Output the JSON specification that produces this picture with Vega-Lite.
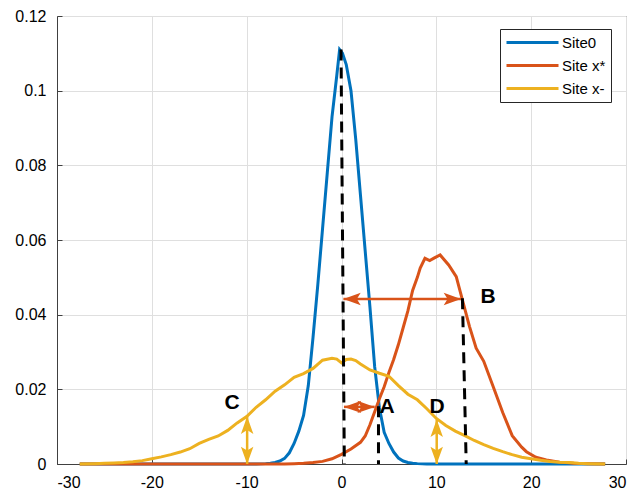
{
  "$schema": "https://vega.github.io/schema/vega-lite/v6.json",
  "width": 569,
  "height": 448,
  "autosize": "none",
  "padding": {"left": 57, "top": 16, "right": 17, "bottom": 29},
  "background": "white",
  "config": {
    "view": {"stroke": "#404040", "strokeWidth": 1},
    "font": "Liberation Sans",
    "axis": {
      "labelColor": "#000000",
      "domainColor": "#404040",
      "gridColor": "#DFDFDF",
      "gridWidth": 1,
      "tickColor": "#404040",
      "tickSize": -5,
      "title": null
    }
  },
  "datasets": {
    "curves": [
      {"s": "Site0", "x": -27.6, "y": 0}, {"s": "Site0", "x": -9, "y": 0}, {"s": "Site0", "x": -8, "y": 0.0001}, {"s": "Site0", "x": -7.5, "y": 0.0002}, {"s": "Site0", "x": -7, "y": 0.0004}, {"s": "Site0", "x": -6.5, "y": 0.0008}, {"s": "Site0", "x": -6, "y": 0.0015}, {"s": "Site0", "x": -5.5, "y": 0.003}, {"s": "Site0", "x": -5, "y": 0.0055}, {"s": "Site0", "x": -4.5, "y": 0.0088}, {"s": "Site0", "x": -4, "y": 0.013}, {"s": "Site0", "x": -3.5, "y": 0.021}, {"s": "Site0", "x": -3, "y": 0.034}, {"s": "Site0", "x": -2.5, "y": 0.048}, {"s": "Site0", "x": -2, "y": 0.063}, {"s": "Site0", "x": -1.5, "y": 0.078}, {"s": "Site0", "x": -1, "y": 0.093}, {"s": "Site0", "x": -0.5, "y": 0.104}, {"s": "Site0", "x": -0.2, "y": 0.111}, {"s": "Site0", "x": 0.1, "y": 0.110}, {"s": "Site0", "x": 0.5, "y": 0.107}, {"s": "Site0", "x": 1, "y": 0.100}, {"s": "Site0", "x": 1.5, "y": 0.087}, {"s": "Site0", "x": 2, "y": 0.072}, {"s": "Site0", "x": 2.5, "y": 0.057}, {"s": "Site0", "x": 3, "y": 0.042}, {"s": "Site0", "x": 3.5, "y": 0.026}, {"s": "Site0", "x": 4, "y": 0.015}, {"s": "Site0", "x": 4.5, "y": 0.0085}, {"s": "Site0", "x": 5, "y": 0.0055}, {"s": "Site0", "x": 5.5, "y": 0.0032}, {"s": "Site0", "x": 6, "y": 0.0016}, {"s": "Site0", "x": 6.5, "y": 0.0008}, {"s": "Site0", "x": 7, "y": 0.0004}, {"s": "Site0", "x": 7.5, "y": 0.0002}, {"s": "Site0", "x": 8, "y": 0.0001}, {"s": "Site0", "x": 9, "y": 0}, {"s": "Site0", "x": 27.8, "y": 0},
      {"s": "Site x*", "x": -27.6, "y": 0}, {"s": "Site x*", "x": -6, "y": 0}, {"s": "Site x*", "x": -5, "y": 0.0001}, {"s": "Site x*", "x": -4, "y": 0.0002}, {"s": "Site x*", "x": -3, "y": 0.0004}, {"s": "Site x*", "x": -2, "y": 0.0007}, {"s": "Site x*", "x": -1, "y": 0.0014}, {"s": "Site x*", "x": 0, "y": 0.0026}, {"s": "Site x*", "x": 1, "y": 0.004}, {"s": "Site x*", "x": 2, "y": 0.0058}, {"s": "Site x*", "x": 2.5, "y": 0.0075}, {"s": "Site x*", "x": 3, "y": 0.0105}, {"s": "Site x*", "x": 3.5, "y": 0.014}, {"s": "Site x*", "x": 4, "y": 0.0175}, {"s": "Site x*", "x": 4.5, "y": 0.0207}, {"s": "Site x*", "x": 5, "y": 0.0245}, {"s": "Site x*", "x": 5.5, "y": 0.028}, {"s": "Site x*", "x": 6, "y": 0.032}, {"s": "Site x*", "x": 6.5, "y": 0.0365}, {"s": "Site x*", "x": 7, "y": 0.041}, {"s": "Site x*", "x": 7.5, "y": 0.0465}, {"s": "Site x*", "x": 8, "y": 0.050}, {"s": "Site x*", "x": 8.3, "y": 0.0525}, {"s": "Site x*", "x": 8.8, "y": 0.0551}, {"s": "Site x*", "x": 9.3, "y": 0.0545}, {"s": "Site x*", "x": 9.8, "y": 0.0552}, {"s": "Site x*", "x": 10.4, "y": 0.056}, {"s": "Site x*", "x": 11.3, "y": 0.0533}, {"s": "Site x*", "x": 12.1, "y": 0.0502}, {"s": "Site x*", "x": 12.7, "y": 0.0444}, {"s": "Site x*", "x": 13.5, "y": 0.0368}, {"s": "Site x*", "x": 14.2, "y": 0.031}, {"s": "Site x*", "x": 15, "y": 0.0275}, {"s": "Site x*", "x": 16, "y": 0.0207}, {"s": "Site x*", "x": 17, "y": 0.0138}, {"s": "Site x*", "x": 18, "y": 0.0076}, {"s": "Site x*", "x": 19, "y": 0.0045}, {"s": "Site x*", "x": 19.5, "y": 0.0033}, {"s": "Site x*", "x": 20.5, "y": 0.0018}, {"s": "Site x*", "x": 21.6, "y": 0.0011}, {"s": "Site x*", "x": 23, "y": 0.0005}, {"s": "Site x*", "x": 24.5, "y": 0.0002}, {"s": "Site x*", "x": 26, "y": 0.0001}, {"s": "Site x*", "x": 27.8, "y": 0},
      {"s": "Site x-", "x": -27.6, "y": 0}, {"s": "Site x-", "x": -26, "y": 0.0001}, {"s": "Site x-", "x": -25, "y": 0.0002}, {"s": "Site x-", "x": -24, "y": 0.0003}, {"s": "Site x-", "x": -23, "y": 0.0004}, {"s": "Site x-", "x": -22, "y": 0.0006}, {"s": "Site x-", "x": -21, "y": 0.0009}, {"s": "Site x-", "x": -20, "y": 0.0014}, {"s": "Site x-", "x": -19, "y": 0.0019}, {"s": "Site x-", "x": -18, "y": 0.0025}, {"s": "Site x-", "x": -17, "y": 0.0032}, {"s": "Site x-", "x": -16, "y": 0.0041}, {"s": "Site x-", "x": -15, "y": 0.0055}, {"s": "Site x-", "x": -14, "y": 0.0066}, {"s": "Site x-", "x": -13, "y": 0.0075}, {"s": "Site x-", "x": -12, "y": 0.009}, {"s": "Site x-", "x": -11, "y": 0.011}, {"s": "Site x-", "x": -10, "y": 0.0127}, {"s": "Site x-", "x": -9, "y": 0.0152}, {"s": "Site x-", "x": -8, "y": 0.0172}, {"s": "Site x-", "x": -7, "y": 0.0195}, {"s": "Site x-", "x": -6, "y": 0.0212}, {"s": "Site x-", "x": -5, "y": 0.0232}, {"s": "Site x-", "x": -4, "y": 0.0242}, {"s": "Site x-", "x": -3, "y": 0.0256}, {"s": "Site x-", "x": -2, "y": 0.0278}, {"s": "Site x-", "x": -1, "y": 0.0283}, {"s": "Site x-", "x": -0.5, "y": 0.0281}, {"s": "Site x-", "x": 0, "y": 0.0271}, {"s": "Site x-", "x": 0.5, "y": 0.028}, {"s": "Site x-", "x": 1, "y": 0.0281}, {"s": "Site x-", "x": 1.5, "y": 0.0277}, {"s": "Site x-", "x": 2, "y": 0.0268}, {"s": "Site x-", "x": 3, "y": 0.0252}, {"s": "Site x-", "x": 4, "y": 0.0243}, {"s": "Site x-", "x": 5, "y": 0.0235}, {"s": "Site x-", "x": 6, "y": 0.021}, {"s": "Site x-", "x": 7, "y": 0.0187}, {"s": "Site x-", "x": 8, "y": 0.0172}, {"s": "Site x-", "x": 9, "y": 0.0148}, {"s": "Site x-", "x": 10, "y": 0.0122}, {"s": "Site x-", "x": 11, "y": 0.0103}, {"s": "Site x-", "x": 12, "y": 0.0088}, {"s": "Site x-", "x": 13, "y": 0.0076}, {"s": "Site x-", "x": 14, "y": 0.0063}, {"s": "Site x-", "x": 15, "y": 0.0052}, {"s": "Site x-", "x": 16, "y": 0.0042}, {"s": "Site x-", "x": 17, "y": 0.0033}, {"s": "Site x-", "x": 18, "y": 0.0025}, {"s": "Site x-", "x": 19, "y": 0.0018}, {"s": "Site x-", "x": 20, "y": 0.0014}, {"s": "Site x-", "x": 21, "y": 0.001}, {"s": "Site x-", "x": 22, "y": 0.0007}, {"s": "Site x-", "x": 23, "y": 0.0005}, {"s": "Site x-", "x": 24, "y": 0.0004}, {"s": "Site x-", "x": 25, "y": 0.0002}, {"s": "Site x-", "x": 26, "y": 0.0001}, {"s": "Site x-", "x": 27.8, "y": 0}
    ],
    "dashes": [
      {"id": 1, "x": -0.05, "y": 0.111}, {"id": 1, "x": 0.3, "y": 0},
      {"id": 2, "x": 3.9, "y": 0.0155}, {"id": 2, "x": 3.9, "y": 0},
      {"id": 3, "x": 12.75, "y": 0.0444}, {"id": 3, "x": 13.15, "y": 0}
    ],
    "arrows": [
      {"arrow": "A", "s": "Site x*", "x": 0.26, "y": 0.0153, "dir": "left"},
      {"arrow": "A", "s": "Site x*", "x": 3.5, "y": 0.0153, "dir": "right"},
      {"arrow": "B", "s": "Site x*", "x": 0.2, "y": 0.0442, "dir": "left"},
      {"arrow": "B", "s": "Site x*", "x": 12.6, "y": 0.0442, "dir": "right"},
      {"arrow": "C", "s": "Site x-", "x": -9.95, "y": 0.0127, "dir": "up"},
      {"arrow": "C", "s": "Site x-", "x": -9.95, "y": 0, "dir": "down"},
      {"arrow": "D", "s": "Site x-", "x": 10.04, "y": 0.0119, "dir": "up"},
      {"arrow": "D", "s": "Site x-", "x": 10.04, "y": 0, "dir": "down"}
    ],
    "labels": [
      {"label": "A", "x": 4.8, "y": 0.0153},
      {"label": "B", "x": 15.45, "y": 0.0447},
      {"label": "C", "x": -11.55, "y": 0.0163},
      {"label": "D", "x": 10.07, "y": 0.0153}
    ]
  },
  "layer": [
    {
      "data": {"name": "curves"},
      "mark": {"type": "line", "strokeWidth": 3, "interpolate": "linear"},
      "encoding": {
        "x": {"field": "x", "type": "quantitative", "scale": {"domain": [-30, 30], "nice": false}, "axis": {"values": [-30, -20, -10, 0, 10, 20, 30], "labelPadding": 15, "labelFontSize": 16, "labelFont": "Liberation Sans", "labelColor": "#000000", "labelExpr": "datum.value < 0 ? '-' + abs(datum.value) : '' + datum.value"}},
        "y": {"field": "y", "type": "quantitative", "scale": {"domain": [0, 0.12], "nice": false}, "axis": {"values": [0, 0.02, 0.04, 0.06, 0.08, 0.1, 0.12], "format": ".2~f", "labelPadding": 16, "labelFontSize": 16, "labelFont": "Liberation Sans", "labelColor": "#000000"}},
        "color": {
          "field": "s", "type": "nominal",
          "scale": {"domain": ["Site0", "Site x*", "Site x-"], "range": ["#0072BD", "#D95319", "#EDB120"]},
          "legend": {
            "title": null, "orient": "none", "legendX": 443, "legendY": 13,
            "symbolType": "M-1,0L6.43,0", "symbolSize": 196, "symbolStrokeWidth": 3,
            "labelFont": "Liberation Sans", "labelFontSize": 15, "labelColor": "#000000", "labelOffset": 40,
            "strokeColor": "#262626", "fillColor": "white", "padding": 5, "rowPadding": 6
          }
        },
        "order": {"field": "x", "type": "quantitative"}
      }
    },
    {
      "data": {"name": "dashes"},
      "mark": {"type": "line", "color": "black", "strokeWidth": 3, "strokeDash": [11, 7]},
      "encoding": {
        "x": {"field": "x", "type": "quantitative"},
        "y": {"field": "y", "type": "quantitative"},
        "detail": {"field": "id", "type": "nominal"}
      }
    },
    {
      "data": {"name": "arrows"},
      "mark": {"type": "line", "strokeWidth": 2.5},
      "encoding": {
        "x": {"field": "x", "type": "quantitative"},
        "y": {"field": "y", "type": "quantitative"},
        "detail": {"field": "arrow", "type": "nominal"},
        "color": {"field": "s", "type": "nominal", "legend": null}
      }
    },
    {
      "data": {"name": "arrows"},
      "mark": {"type": "point", "filled": true, "opacity": 1, "size": 300, "strokeWidth": 0},
      "encoding": {
        "x": {"field": "x", "type": "quantitative"},
        "y": {"field": "y", "type": "quantitative"},
        "color": {"field": "s", "type": "nominal", "legend": null},
        "shape": {
          "field": "dir", "type": "nominal", "legend": null,
          "scale": {"domain": ["left", "right", "up", "down"], "range": ["M0,0L2,-0.72L1.55,0L2,0.72Z", "M0,0L-2,-0.72L-1.55,0L-2,0.72Z", "M0,0L-0.72,2L0,1.55L0.72,2Z", "M0,0L-0.72,-2L0,-1.55L0.72,-2Z"]}
        }
      }
    },
    {
      "data": {"name": "labels"},
      "mark": {"type": "text", "font": "Liberation Sans", "fontWeight": "bold", "fontSize": 21, "color": "black", "align": "center", "baseline": "middle"},
      "encoding": {
        "x": {"field": "x", "type": "quantitative"},
        "y": {"field": "y", "type": "quantitative"},
        "text": {"field": "label", "type": "nominal"}
      }
    }
  ]
}
